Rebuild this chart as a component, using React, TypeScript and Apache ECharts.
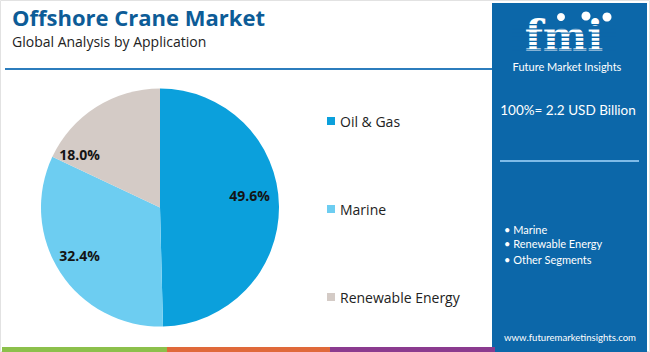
import React, { useEffect, useRef } from "react";
import * as echarts from "echarts";

const categories = ["Oil & Gas", "Marine", "Renewable Energy"];
const values = [49.6, 32.4, 18.0];
const colors = ["#0ba0dc", "#6dcdf1", "#d4cbc6"];
const labelShift: [number, number][] = [[27, -11], [-28, 14], [-47, 0]];
const panelBullets = ["• Marine", "• Renewable Energy", "• Other Segments"];
const title = "Offshore Crane Market";
const subtitle = "Global Analysis by Application";
const totalText = "100%= 2.2 USD Billion";
const site = "www.futuremarketinsights.com";

export default function App() {
  const ref = useRef<HTMLDivElement>(null);
  useEffect(() => {
    if (!ref.current) return;
    const chart = echarts.init(ref.current, undefined, { renderer: "svg" });
    const panel = "#0c67a9";
    const stripes: any[] = [];
    for (let i = 0; i < 7; i++) {
      stripes.push({
        type: "rect",
        shape: { x: 512, y: 24 + i * 4.2, width: 104, height: 1.3 },
        style: { fill: panel },
        z: 12,
      });
    }
    chart.setOption({
      animation: false,
      legend: {
        orient: "vertical",
        left: 322,
        top: 108,
        itemWidth: 8,
        itemHeight: 8,
        itemGap: 72,
        icon: "rect",
        data: categories,
        textStyle: { fontSize: 14, lineHeight: 16, color: "#222", fontFamily: "Open Sans" },
      },
      series: [
        {
          type: "pie",
          center: [160, 207.5],
          radius: [0, 119],
          startAngle: 90,
          clockwise: true,
          silent: true,
          label: {
            show: true,
            position: "inside",
            formatter: (p: any) => p.value.toFixed(1) + "%",
            fontSize: 14,
            fontWeight: "bold",
            color: "#141414",
            fontFamily: "Open Sans",
          },
          labelLine: { show: false },
          labelLayout: (p: any) => ({ dx: labelShift[p.dataIndex][0], dy: labelShift[p.dataIndex][1] }),
          itemStyle: { borderWidth: 0 },
          data: categories.map((c, i) => ({ name: c, value: values[i], itemStyle: { color: colors[i] } })),
        },
      ],
      graphic: [
        { type: "rect", shape: { x: 0.5, y: 0.5, width: 649, height: 351 }, style: { fill: "none", stroke: "#e2e2e2", lineWidth: 1 }, z: 1 },
        { type: "text", x: 12, y: 17, style: { text: title, fontSize: 22, fontWeight: "bold", fill: "#0d5c97", fontFamily: "Open Sans", verticalAlign: "middle" }, z: 10 },
        { type: "text", x: 12, y: 41, style: { text: subtitle, fontSize: 14, fill: "#222", fontFamily: "Open Sans", verticalAlign: "middle" }, z: 10 },
        { type: "line", shape: { x1: 5, y1: 69, x2: 492, y2: 69 }, style: { stroke: "#2c7dbd", lineWidth: 2 }, z: 10 },
        { type: "rect", shape: { x: 492, y: 3, width: 155, height: 349 }, style: { fill: panel }, z: 10 },
        { type: "text", x: 564, y: 36, style: { text: "fmi", fontSize: 42, fontWeight: "bold", fill: "#fff", fontFamily: "DejaVu Serif", align: "center", verticalAlign: "middle" }, z: 11 },
        { type: "circle", shape: { cx: 561, cy: 17, r: 4 }, style: { fill: "#fff" }, z: 11 },
        { type: "circle", shape: { cx: 586, cy: 16, r: 4.5 }, style: { fill: "#fff" }, z: 11 },
        { type: "circle", shape: { cx: 607, cy: 17, r: 4.5 }, style: { fill: "#fff" }, z: 11 },
        ...stripes,
        { type: "text", x: 567, y: 66, style: { text: "Future Market Insights", fontSize: 11, fill: "#fff", fontFamily: "Lato", align: "center", verticalAlign: "middle" }, z: 11 },
        { type: "text", x: 568, y: 110, style: { text: totalText, fontSize: 13.5, fill: "#fff", fontFamily: "Lato", align: "center", verticalAlign: "middle" }, z: 11 },
        { type: "line", shape: { x1: 500, y1: 161, x2: 639, y2: 161 }, style: { stroke: "#7fbbe8", lineWidth: 2 }, z: 11 },
        ...panelBullets.map((t, i) => ({
          type: "text", x: 504, y: [229, 243, 259][i],
          style: { text: t, fontSize: 11, fill: "#fff", fontFamily: "Lato", verticalAlign: "middle" }, z: 11,
        })),
        { type: "text", x: 570, y: 337, style: { text: site, fontSize: 9.6, fill: "#fff", fontFamily: "Lato", align: "center", verticalAlign: "middle" }, z: 11 },
        { type: "rect", shape: { x: 2, y: 347, width: 165, height: 5 }, style: { fill: "#8cc04b" }, z: 12 },
        { type: "rect", shape: { x: 167, y: 347, width: 163, height: 5 }, style: { fill: "#e0693a" }, z: 12 },
        { type: "rect", shape: { x: 330, y: 347, width: 165, height: 5 }, style: { fill: "#8b3b8f" }, z: 12 },
      ],
    });
    return () => chart.dispose();
  }, []);
  return <div ref={ref} style={{ position: "fixed", left: 0, top: 0, width: 650, height: 352, background: "#fff" }} />;
}
